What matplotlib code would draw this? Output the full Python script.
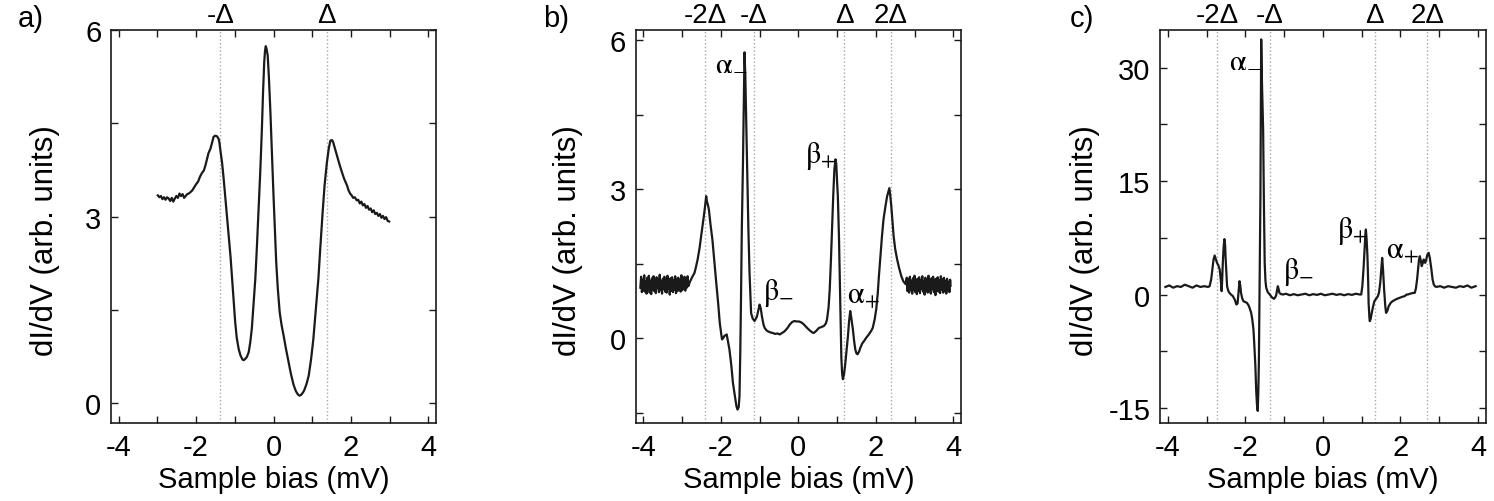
import matplotlib
matplotlib.use('Agg')
import matplotlib.pyplot as plt
from matplotlib.ticker import MultipleLocator

plt.rcParams['font.family'] = 'Liberation Sans'
plt.rcParams['mathtext.fontset'] = 'stix'
plt.rcParams['axes.unicode_minus'] = False

# ---- panel a data ----
bias_a = [-2.99, -2.95, -2.91, -2.87, -2.83, -2.79, -2.75, -2.71, -2.67, -2.63, -2.59,
          -2.55, -2.51, -2.47, -2.43, -2.39, -2.35, -2.31, -2.27, -2.23, -2.19,
          -2.15, -2.10, -2.05, -2.00, -1.95, -1.90, -1.85, -1.80, -1.76, -1.72, -1.68,
          -1.63, -1.59, -1.55, -1.51, -1.46, -1.42, -1.40, -1.37, -1.33, -1.29, -1.25,
          -1.20, -1.16, -1.11, -1.07, -1.03, -0.99, -0.95, -0.90, -0.85, -0.80, -0.77,
          -0.73, -0.69, -0.64, -0.60, -0.56, -0.52, -0.47, -0.43, -0.39, -0.34, -0.30,
          -0.27, -0.24, -0.22, -0.20, -0.18, -0.15, -0.12, -0.08, -0.04, 0.00, 0.04,
          0.07, 0.11, 0.16, 0.21, 0.26, 0.32, 0.39, 0.45, 0.52, 0.58, 0.63, 0.67, 0.71,
          0.75, 0.79, 0.85, 0.91, 0.97, 1.03, 1.09, 1.16, 1.21, 1.27, 1.32, 1.38, 1.43,
          1.47, 1.51, 1.54, 1.59, 1.64, 1.70, 1.77, 1.83, 1.90, 1.94, 1.98, 2.02, 2.06,
          2.10, 2.15, 2.19, 2.23, 2.27, 2.31, 2.35, 2.39, 2.43, 2.47, 2.51, 2.55, 2.59,
          2.63, 2.67, 2.71, 2.75, 2.79, 2.83, 2.87, 2.91, 2.95, 2.99]
didv_a = [3.34, 3.31, 3.33, 3.28, 3.31, 3.27, 3.31, 3.29, 3.25, 3.30, 3.24,
          3.29, 3.33, 3.30, 3.37, 3.33, 3.36, 3.30, 3.33, 3.36, 3.37,
          3.39, 3.42, 3.47, 3.52, 3.56, 3.64, 3.70, 3.74, 3.82, 3.92, 4.02,
          4.09, 4.18, 4.28, 4.30, 4.29, 4.25, 4.20, 4.05, 3.87, 3.62, 3.34,
          3.00, 2.70, 2.35, 2.00, 1.65, 1.30, 1.05, 0.87, 0.76, 0.70, 0.69,
          0.71, 0.74, 0.82, 0.98, 1.20, 1.55, 2.00, 2.50, 3.07, 3.75, 4.41,
          5.00, 5.48, 5.66, 5.74, 5.70, 5.59, 5.25, 4.68, 4.00, 3.34, 2.75,
          2.27, 1.85, 1.46, 1.25, 1.09, 0.88, 0.66, 0.47, 0.29, 0.19, 0.14, 0.12, 0.13,
          0.16, 0.20, 0.30, 0.44, 0.70, 1.03, 1.48, 2.00, 2.50, 3.07, 3.50, 3.87, 4.10,
          4.22, 4.23, 4.20, 4.09, 3.98, 3.85, 3.71, 3.60, 3.50, 3.42, 3.37, 3.34, 3.30,
          3.31, 3.26, 3.27, 3.21, 3.24, 3.18, 3.20, 3.14, 3.17, 3.11, 3.13, 3.07, 3.10,
          3.04, 3.06, 3.01, 3.04, 2.98, 3.01, 2.96, 2.99, 2.93, 2.92]

# ---- panel b data ----
bias_b = [-4.08, -4.06, -4.04, -4.02, -4.00, -3.98, -3.96, -3.94, -3.92, -3.90, -3.88,
          -3.86, -3.84, -3.82, -3.80, -3.78, -3.76, -3.74, -3.72, -3.70, -3.68, -3.66,
          -3.64, -3.62, -3.60, -3.58, -3.56, -3.54, -3.52, -3.50, -3.48, -3.46, -3.44,
          -3.42, -3.40, -3.38, -3.36, -3.34, -3.32, -3.30, -3.28, -3.26, -3.24, -3.22,
          -3.20, -3.18, -3.16, -3.14, -3.12, -3.10, -3.08, -3.06, -3.04, -3.02, -3.00,
          -2.98, -2.96, -2.94, -2.92, -2.90, -2.88, -2.86, -2.84,
          -2.81, -2.75, -2.68, -2.64, -2.60, -2.55, -2.51, -2.47, -2.44, -2.41, -2.39,
          -2.38, -2.36, -2.34, -2.31, -2.27, -2.22, -2.17, -2.12, -2.07, -2.03, -1.99,
          -1.97, -1.93, -1.91, -1.87, -1.85, -1.82, -1.78, -1.73, -1.69, -1.64, -1.60,
          -1.57, -1.54, -1.52, -1.50, -1.48, -1.46, -1.43, -1.41, -1.39, -1.37, -1.35,
          -1.32, -1.29, -1.26, -1.22, -1.18, -1.13, -1.07, -1.03, -1.00, -0.97, -0.94,
          -0.90, -0.87, -0.82, -0.78, -0.72, -0.66, -0.60, -0.54, -0.48, -0.42, -0.36,
          -0.29, -0.22, -0.16, -0.10, -0.04, 0.02, 0.08, 0.13, 0.18, 0.24, 0.31, 0.36,
          0.40, 0.46, 0.53, 0.60, 0.66, 0.71, 0.74, 0.78, 0.81, 0.84, 0.87, 0.90, 0.93,
          0.96, 0.98, 1.00, 1.02, 1.05, 1.07, 1.09, 1.11, 1.13, 1.15, 1.18, 1.21, 1.25,
          1.28, 1.31, 1.34, 1.37, 1.41, 1.44, 1.47, 1.50, 1.53, 1.57, 1.60, 1.65, 1.69,
          1.75, 1.82, 1.88, 1.92, 1.97, 2.01, 2.05, 2.08, 2.12, 2.16, 2.20, 2.25, 2.29,
          2.33, 2.35, 2.37, 2.40, 2.43, 2.46, 2.50, 2.55, 2.60, 2.66, 2.71, 2.77,
          2.80, 2.82, 2.84, 2.86, 2.88, 2.90, 2.92, 2.94, 2.96, 2.98, 3.00, 3.02, 3.04,
          3.06, 3.08, 3.10, 3.12, 3.14, 3.16, 3.18, 3.20, 3.22, 3.24, 3.26, 3.28, 3.30,
          3.32, 3.34, 3.36, 3.38, 3.40, 3.42, 3.44, 3.46, 3.48, 3.50, 3.52, 3.54, 3.56,
          3.58, 3.60, 3.62, 3.64, 3.66, 3.68, 3.70, 3.72, 3.74, 3.76, 3.78, 3.80, 3.82,
          3.84, 3.86, 3.88, 3.90, 3.92, 3.93]
didv_b = [1.02, 1.24, 0.93, 1.18, 0.96, 1.27, 0.94, 1.15, 0.90, 1.22, 1.00,
          1.26, 0.92, 1.16, 0.89, 1.21, 0.98, 1.25, 0.95, 1.17, 0.91, 1.23,
          1.01, 1.19, 0.93, 1.28, 0.97, 1.14, 0.90, 1.20, 0.99, 1.24, 0.94,
          1.18, 0.92, 1.26, 1.00, 1.15, 0.88, 1.21, 0.96, 1.23, 0.93, 1.17,
          0.98, 1.25, 0.91, 1.19, 0.95, 1.22, 1.01, 1.16, 0.94, 1.27, 0.97,
          1.20, 0.99, 1.24, 0.96, 1.18, 1.02, 1.25, 1.05,
          1.12, 1.22, 1.32, 1.45, 1.59, 1.82, 2.06, 2.28, 2.46, 2.65, 2.80,
          2.86, 2.75, 2.70, 2.59, 2.30, 1.99, 1.55, 1.12, 0.70, 0.32, 0.08,
          -0.02, 0.02, 0.05, 0.07, 0.08, -0.05, -0.22, -0.55, -0.89, -1.15, -1.36,
          -1.43, -1.38, -1.16, -0.30, 0.85, 2.20, 3.53, 4.70, 5.75, 5.30, 4.54,
          3.30, 2.19, 1.30, 0.51, 0.40, 0.35, 0.44, 0.58, 0.68, 0.60, 0.44,
          0.28, 0.21, 0.16, 0.14, 0.12, 0.11, 0.09, 0.10, 0.08, 0.11, 0.14,
          0.20, 0.28, 0.33, 0.35, 0.34, 0.34, 0.32, 0.29, 0.25, 0.20, 0.15, 0.12,
          0.11, 0.15, 0.21, 0.23, 0.25, 0.30, 0.38, 0.62, 0.98, 1.55, 2.19, 2.85, 3.40,
          3.60, 3.50, 3.15, 2.86, 2.00, 1.19, 0.40, -0.38, -0.70, -0.82, -0.72, -0.52, -0.20,
          0.04, 0.35, 0.55, 0.40, 0.17, -0.05, -0.22, -0.30, -0.32, -0.26, -0.19, -0.10, -0.06,
          0.01, 0.08, 0.15, 0.21, 0.38, 0.58, 0.90, 1.25, 1.65, 2.06, 2.40, 2.66, 2.85,
          2.96, 3.02, 2.90, 2.66, 2.35, 2.06, 1.80, 1.59, 1.42, 1.25, 1.15, 1.09,
          1.22, 0.95, 1.19, 0.92, 1.24, 0.97, 1.16, 0.90, 1.21, 0.98, 1.26, 0.93, 1.18,
          0.89, 1.20, 0.96, 1.23, 0.91, 1.17, 0.99, 1.25, 0.94, 1.15, 0.88, 1.22, 0.97,
          1.19, 0.92, 1.26, 0.95, 1.16, 0.90, 1.21, 0.99, 1.24, 0.93, 1.18, 0.87, 1.20,
          0.96, 1.23, 0.94, 1.17, 0.91, 1.25, 0.98, 1.19, 0.92, 1.22, 0.95, 1.16, 0.90,
          1.20, 0.97, 1.14, 0.93, 1.18, 1.06]

# ---- panel c data ----
bias_c = [-4.06, -3.96, -3.86, -3.76, -3.66, -3.56, -3.46, -3.36, -3.26, -3.16, -3.06, -2.96,
          -2.92, -2.88, -2.85, -2.82, -2.79, -2.76, -2.73, -2.69, -2.66, -2.63, -2.61, -2.60,
          -2.58, -2.56, -2.54, -2.52, -2.51, -2.49, -2.47, -2.44, -2.41, -2.37, -2.32, -2.27,
          -2.23, -2.20, -2.18, -2.15, -2.13, -2.11, -2.08, -2.05, -2.00, -1.96, -1.92, -1.89,
          -1.85, -1.82, -1.79, -1.77, -1.74, -1.72, -1.70, -1.68, -1.665, -1.65, -1.63, -1.61,
          -1.60, -1.59, -1.57, -1.54, -1.52, -1.50, -1.48, -1.46, -1.42, -1.37, -1.31, -1.26,
          -1.22, -1.20, -1.18, -1.16, -1.14, -1.12, -1.08, -1.03,
          -0.95, -0.85, -0.75, -0.65, -0.55, -0.45, -0.35, -0.25, -0.15, -0.05, 0.05, 0.15,
          0.25, 0.35, 0.45, 0.55, 0.65, 0.75, 0.85, 0.95,
          0.99, 1.02, 1.05, 1.08, 1.10, 1.11, 1.13, 1.15, 1.17, 1.18, 1.20, 1.21, 1.23, 1.27,
          1.30, 1.33, 1.38, 1.42, 1.45, 1.48, 1.51, 1.53, 1.55, 1.58, 1.61, 1.63, 1.66, 1.70,
          1.75, 1.80, 1.90, 1.98, 2.05, 2.11, 2.16, 2.19, 2.25, 2.32, 2.37, 2.40, 2.43, 2.46,
          2.48, 2.50, 2.53, 2.55, 2.58, 2.60, 2.62, 2.64, 2.67, 2.69, 2.71, 2.73, 2.76, 2.80,
          2.83, 2.86, 2.90, 2.93,
          3.03, 3.13, 3.23, 3.33, 3.43, 3.53, 3.63, 3.73, 3.83, 3.94]
didv_c = [1.0, 1.2, 0.9, 1.1, 1.0, 1.3, 1.1, 0.9, 1.2, 1.0, 1.1, 1.0,
          1.1, 2.0, 3.3, 4.6, 5.16, 4.7, 4.2, 3.8, 3.3, 1.8, 0.44, 1.5,
          4.2, 6.2, 7.33, 6.5, 5.07, 3.0, 1.1, 0.5, 0.22, 0.0, -0.22, -0.7,
          -1.32, -1.2, 0.0, 1.76, 1.2, 0.22, -0.5, -0.88, -1.0, -1.1, -1.4, -1.76,
          -2.4, -3.3, -4.6, -6.4, -9.5, -12.6, -14.5, -15.4, -13.0, -9.0, 2.0, 13.0,
          24.0, 33.75, 28.0, 21.8, 12.0, 4.2, 1.8, 0.88, 0.3, 0.0, -0.4, -0.57,
          -0.3, 0.0, 0.6, 1.1, 0.7, 0.22, 0.05, 0.0,
          0.1, -0.1, 0.05, -0.1, 0.0, 0.1, -0.1, 0.05, -0.05, 0.1, -0.1, 0.0,
          0.1, -0.05, 0.05, -0.1, 0.05, -0.05, 0.1, 0.0,
          0.0, 1.2, 3.5, 6.4, 8.2, 8.6, 7.2, 5.07, 1.5, -1.1, -3.0, -3.53, -3.3, -2.2,
          -1.5, -0.88, -0.5, -0.22, 0.3, 1.54, 3.5, 4.85, 3.5, 0.66, -1.5, -2.43, -2.2, -1.54,
          -1.1, -0.88, -0.6, -0.44, -0.3, -0.22, 0.0, 0.0, 0.1, 0.2, 0.22, 0.8, 1.98, 3.5,
          4.6, 5.07, 4.4, 3.75, 4.2, 4.63, 4.3, 4.19, 4.7, 5.16, 5.4, 5.51, 4.8, 3.3,
          2.0, 1.32, 1.05, 1.01,
          1.1, 0.9, 1.1, 1.0, 0.9, 1.1, 1.0, 1.2, 0.9, 1.1]

# gap markers and peak labels
gap_a = [-1.375, 1.375]
gap_labels_a = ['-Δ', 'Δ']
gap_b = [-2.41, -1.15, 1.19, 2.39]
gap_c = [-2.72, -1.36, 1.34, 2.69]
gap_labels_bc = ['-2Δ', '-Δ', 'Δ', '2Δ']

peak_labels = [r'$\mathrm{\alpha}_{-}$', r'$\mathrm{\beta}_{-}$',
               r'$\mathrm{\beta}_{+}$', r'$\mathrm{\alpha}_{+}$']
peak_pos_b = [(-2.16, 5.41), (-0.92, 0.80), (0.17, 3.54), (1.26, 0.72)]
peak_pos_c = [(-2.42, 30.2), (-1.04, 2.2), (0.36, 7.6), (1.62, 4.8)]

fig = plt.figure(figsize=(14.94, 5.02), dpi=100)

panels = [
    dict(rect=[111/1494, 0.1554, 325/1494, 0.7829], x=bias_a, y=didv_a,
         ylim=(-0.32, 6.0), major=3, minor=1.5, gaps=gap_a, gap_labels=gap_labels_a,
         peaks=None, letter='a)', letter_x=18/1494, ylab_x=-0.157),
    dict(rect=[635.7/1494, 0.1554, 325.3/1494, 0.7829], x=bias_b, y=didv_b,
         ylim=(-1.70, 6.2), major=3, minor=1.5, gaps=gap_b, gap_labels=gap_labels_bc,
         peaks=peak_pos_b, letter='b)', letter_x=543/1494, ylab_x=-0.162),
    dict(rect=[1160/1494, 0.1554, 325.7/1494, 0.7829], x=bias_c, y=didv_c,
         ylim=(-17, 35), major=15, minor=7.5, gaps=gap_c, gap_labels=gap_labels_bc,
         peaks=peak_pos_c, letter='c)', letter_x=1070/1494, ylab_x=-0.184),
]

for p in panels:
    ax = fig.add_axes(p['rect'])
    for g in p['gaps']:
        ax.axvline(g, color='#a8a8a8', ls=':', lw=1.0, zorder=0)
    ax.plot(p['x'], p['y'], color='#1a1a1a', lw=1.6)

    ax.set_xlim(-4.2, 4.2)
    ax.set_ylim(*p['ylim'])
    ax.xaxis.set_major_locator(MultipleLocator(2))
    ax.xaxis.set_minor_locator(MultipleLocator(1))
    ax.yaxis.set_major_locator(MultipleLocator(p['major']))
    ax.yaxis.set_minor_locator(MultipleLocator(p['minor']))
    ax.tick_params(which='both', direction='in', top=True, right=True,
                   length=5, width=1.0, color='#1a1a1a')
    ax.tick_params(axis='x', labelsize=21, pad=7)
    ax.tick_params(axis='y', labelsize=21, pad=7)
    for s in ax.spines.values():
        s.set_linewidth(1.2)
        s.set_color('#1a1a1a')

    ax.set_xlabel('Sample bias (mV)', fontsize=21, labelpad=3)
    ax.set_ylabel('dI/dV (arb. units)', fontsize=22.5)
    ax.yaxis.set_label_coords(p['ylab_x'], 0.467)

    for g, lab in zip(p['gaps'], p['gap_labels']):
        ax.text(g, 1.02, lab, transform=ax.get_xaxis_transform(),
                ha='center', va='baseline', fontsize=20)

    if p['peaks']:
        for (px, py), lab in zip(p['peaks'], peak_labels):
            ax.text(px, py, lab, ha='left', va='baseline', fontsize=22)

    fig.text(p['letter_x'], 1 - 27/502, p['letter'], fontsize=21,
             ha='left', va='baseline')

fig.savefig('out.png', dpi=100)
